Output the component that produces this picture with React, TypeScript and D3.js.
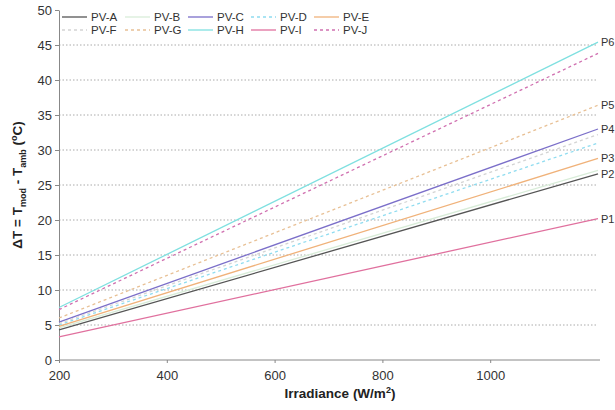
import React, { useEffect, useRef } from 'react';
import * as d3 from 'd3';

// series: value at 200 and 1200 W/m2
const names = ['PV-A', 'PV-B', 'PV-C', 'PV-D', 'PV-E', 'PV-F', 'PV-G', 'PV-H', 'PV-I', 'PV-J'];
const irradiance = [200, 1200];
const startValues = [4.3, 4.6, 5.4, 5.0, 4.8, 5.2, 6.0, 7.5, 3.3, 7.2];
const endValues = [26.6, 27.1, 33.0, 31.0, 28.8, 32.2, 36.4, 45.4, 20.2, 43.8];
const colors = ['#555555', '#d8ecd8', '#7b6fc9', '#8fdcf0', '#f0b27a', '#d4d4d4', '#e8c095', '#7fe0e0', '#e0709e', '#d070b0'];
const dashed = [false, false, false, true, false, true, true, false, false, true];
const groupLabels = ['P6', 'P5', 'P4', 'P3', 'P2', 'P1'];
const groupLabelValues = [45.4, 36.4, 33.0, 28.8, 26.6, 20.2];
const xTicks = [200, 400, 600, 800, 1000];
const yTicks = [0, 5, 10, 15, 20, 25, 30, 35, 40, 45, 50];

function App() {
  const ref = useRef<SVGSVGElement>(null);

  useEffect(() => {
    const svg = d3.select(ref.current);
    svg.selectAll('*').remove();

    const x = d3.scaleLinear().domain([200, 1200]).range([59, 598]);
    const y = d3.scaleLinear().domain([0, 50]).range([360, 10]);
    const font = 'Liberation Sans, Arial, sans-serif';

    // grid
    svg.append('g')
      .selectAll('line')
      .data(yTicks.filter(t => t > 0 && t < 50))
      .enter()
      .append('line')
      .attr('x1', x(200)).attr('x2', x(1200))
      .attr('y1', d => y(d)).attr('y2', d => y(d))
      .attr('stroke', '#aaa')
      .attr('stroke-width', 1)
      .attr('stroke-dasharray', '1.5,2');

    // axes
    const yAxis = d3.axisLeft(y).tickValues(yTicks).tickSize(4).tickSizeOuter(0).tickFormat(d3.format('d'));
    const gy = svg.append('g').attr('transform', `translate(${x(200)},0)`).call(yAxis);
    const xAxis = d3.axisBottom(x).tickValues(xTicks).tickSize(3).tickSizeOuter(0).tickFormat(d3.format('d'));
    const gx = svg.append('g').attr('transform', `translate(0,${y(0)})`).call(xAxis);
    gx.select('.domain').attr('d', `M${x(200)},0H${x(1200) + 2}`);
    [gx, gy].forEach(g => {
      g.select('.domain').attr('stroke', '#888');
      g.selectAll('.tick line').attr('stroke', '#888');
      g.selectAll('.tick text')
        .attr('font-family', font)
        .attr('font-size', 13)
        .attr('fill', '#333');
    });
    gx.selectAll('.tick text').attr('dy', '1.1em');

    // lines
    const line = d3.line<number>().x((d, i) => x(irradiance[i])).y(d => y(d));
    svg.append('g')
      .selectAll('path')
      .data(names.map((n, i) => i))
      .enter()
      .append('path')
      .attr('d', i => line([startValues[i], endValues[i]]))
      .attr('fill', 'none')
      .attr('stroke', i => colors[i])
      .attr('stroke-width', 1.3)
      .attr('stroke-dasharray', i => (dashed[i] ? '3,3' : null));

    // group labels
    svg.append('g')
      .selectAll('text')
      .data(groupLabels)
      .enter()
      .append('text')
      .attr('x', x(1200) + 3)
      .attr('y', (d, i) => y(groupLabelValues[i]) + 4)
      .attr('font-family', font)
      .attr('font-size', 11)
      .attr('fill', '#333')
      .text(d => d);

    // legend
    const leg = svg.append('g')
      .selectAll('g')
      .data(names)
      .enter()
      .append('g')
      .attr('transform', (d, i) => `translate(${91 + (i % 5) * 63},${i < 5 ? 17 : 30})`);
    leg.append('line')
      .attr('x1', -29).attr('x2', -4)
      .attr('y1', 0).attr('y2', 0)
      .attr('stroke', (d, i) => colors[i])
      .attr('stroke-width', 1.3)
      .attr('stroke-dasharray', (d, i) => (dashed[i] ? '3,3' : null));
    leg.append('text')
      .attr('x', 0).attr('y', 4)
      .attr('font-family', font)
      .attr('font-size', 11.5)
      .attr('fill', '#333')
      .text(d => d);

    // axis titles
    const xt = svg.append('text')
      .attr('x', 340).attr('y', 398)
      .attr('text-anchor', 'middle')
      .attr('font-family', font)
      .attr('font-size', 13.5)
      .attr('font-weight', 'bold')
      .attr('fill', '#222');
    xt.append('tspan').text('Irradiance (W/m');
    xt.append('tspan').attr('font-size', 9).attr('dy', -5).text('2');
    xt.append('tspan').attr('dy', 5).text(')');

    const yt = svg.append('text')
      .attr('transform', 'translate(22,185) rotate(-90)')
      .attr('text-anchor', 'middle')
      .attr('font-family', font)
      .attr('font-size', 13.5)
      .attr('font-weight', 'bold')
      .attr('fill', '#222');
    yt.append('tspan').text('ΔT = T');
    yt.append('tspan').attr('font-size', 9).attr('dy', 4).text('mod');
    yt.append('tspan').attr('dy', -4).text(' - T');
    yt.append('tspan').attr('font-size', 9).attr('dy', 4).text('amb');
    yt.append('tspan').attr('dy', -4).text(' (');
    yt.append('tspan').attr('font-size', 9).attr('dy', -5).text('o');
    yt.append('tspan').attr('dy', 5).text('C)');
  }, []);

  return (
    <svg ref={ref} width={615} height={410} style={{ position: 'absolute', left: 0, top: 0, background: '#fff' }}></svg>
  );
}

export default App;
